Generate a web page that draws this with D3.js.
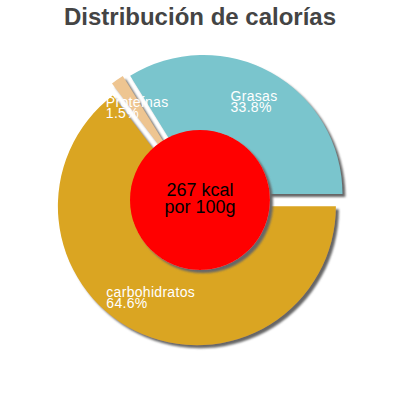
<!DOCTYPE html>
<html>
<head>
<meta charset="utf-8">
<script src="https://cdn.jsdelivr.net/npm/d3@7"></script>
<style>
  body { margin: 0; background: #fff; }
  svg { display: block; font-family: "Liberation Sans", Arial, sans-serif; }
</style>
</head>
<body>
<svg id="chart" width="400" height="400"></svg>
<script>
// data, in drawing order (clockwise from 3 o'clock)
const categories = ["carbohidratos", "Proteínas", "Grasas"];
const percents = [64.6, 1.5, 33.8];
const colors = ["#DAA520", "#EEC591", "#7AC5CD"];
const title = "Distribución de calorías";
const centerLines = ["267 kcal", "por 100g"];

const width = 400, height = 400;
const cx = 200, cy = 200;
const radius = 139, explode = 7, innerR = 70, labelR = 104;

const svg = d3.select("#chart");

// shadow
const defs = svg.append("defs");
const f = defs.append("filter").attr("id", "shadow")
  .attr("x", "-20%").attr("y", "-20%").attr("width", "140%").attr("height", "140%");
f.append("feDropShadow")
  .attr("dx", 3).attr("dy", 3).attr("stdDeviation", 0.8)
  .attr("flood-color", "#666").attr("flood-opacity", 1);

svg.append("text")
  .attr("x", width / 2)
  .attr("y", 25)
  .attr("text-anchor", "middle")
  .style("font-size", "24px")
  .style("font-weight", "bold")
  .attr("fill", "#444")
  .text(title);

const pie = d3.pie().sort(null).startAngle(Math.PI / 2).endAngle(Math.PI / 2 + 2 * Math.PI);
const arcs = pie(percents);
const arc = d3.arc().innerRadius(0).outerRadius(radius);
const labelArc = d3.arc().innerRadius(labelR).outerRadius(labelR);

const g = svg.append("g").attr("transform", `translate(${cx},${cy})`);

function offset(d) {
  const mid = (d.startAngle + d.endAngle) / 2;
  return [explode * Math.sin(mid), -explode * Math.cos(mid)];
}

g.selectAll("path.slice")
  .data(arcs)
  .join("path")
  .attr("class", "slice")
  .attr("transform", d => `translate(${offset(d)})`)
  .attr("d", arc)
  .attr("fill", (d, i) => colors[i])
  .attr("filter", "url(#shadow)");

// labels: left-aligned block centred on the label arc
const labels = g.selectAll("g.label")
  .data(arcs)
  .join("g")
  .attr("class", "label")
  .attr("transform", d => {
    const [ox, oy] = offset(d);
    const [lx, ly] = labelArc.centroid(d);
    return `translate(${ox + lx},${oy + ly})`;
  });

labels.each(function (d, i) {
  const lg = d3.select(this);
  const t1 = lg.append("text").attr("y", -2).text(categories[i]);
  const t2 = lg.append("text").attr("y", 9).text(percents[i].toFixed(1) + "%");
  lg.selectAll("text")
    .attr("fill", "#fff")
    .style("font-size", "14px")
    .style("letter-spacing", "0.3px");
  const w = Math.max(t1.node().getComputedTextLength(), t2.node().getComputedTextLength());
  lg.selectAll("text").attr("x", -w / 2);
});

// centre circle
g.append("circle")
  .attr("r", innerR)
  .attr("fill", "#ff0000")
  .attr("filter", "url(#shadow)");

g.selectAll("text.center")
  .data(centerLines)
  .join("text")
  .attr("class", "center")
  .attr("text-anchor", "middle")
  .attr("y", (d, i) => -4 + i * 17)
  .style("font-size", "18px")
  .attr("fill", "#000")
  .text(d => d);
</script>
</body>
</html>
